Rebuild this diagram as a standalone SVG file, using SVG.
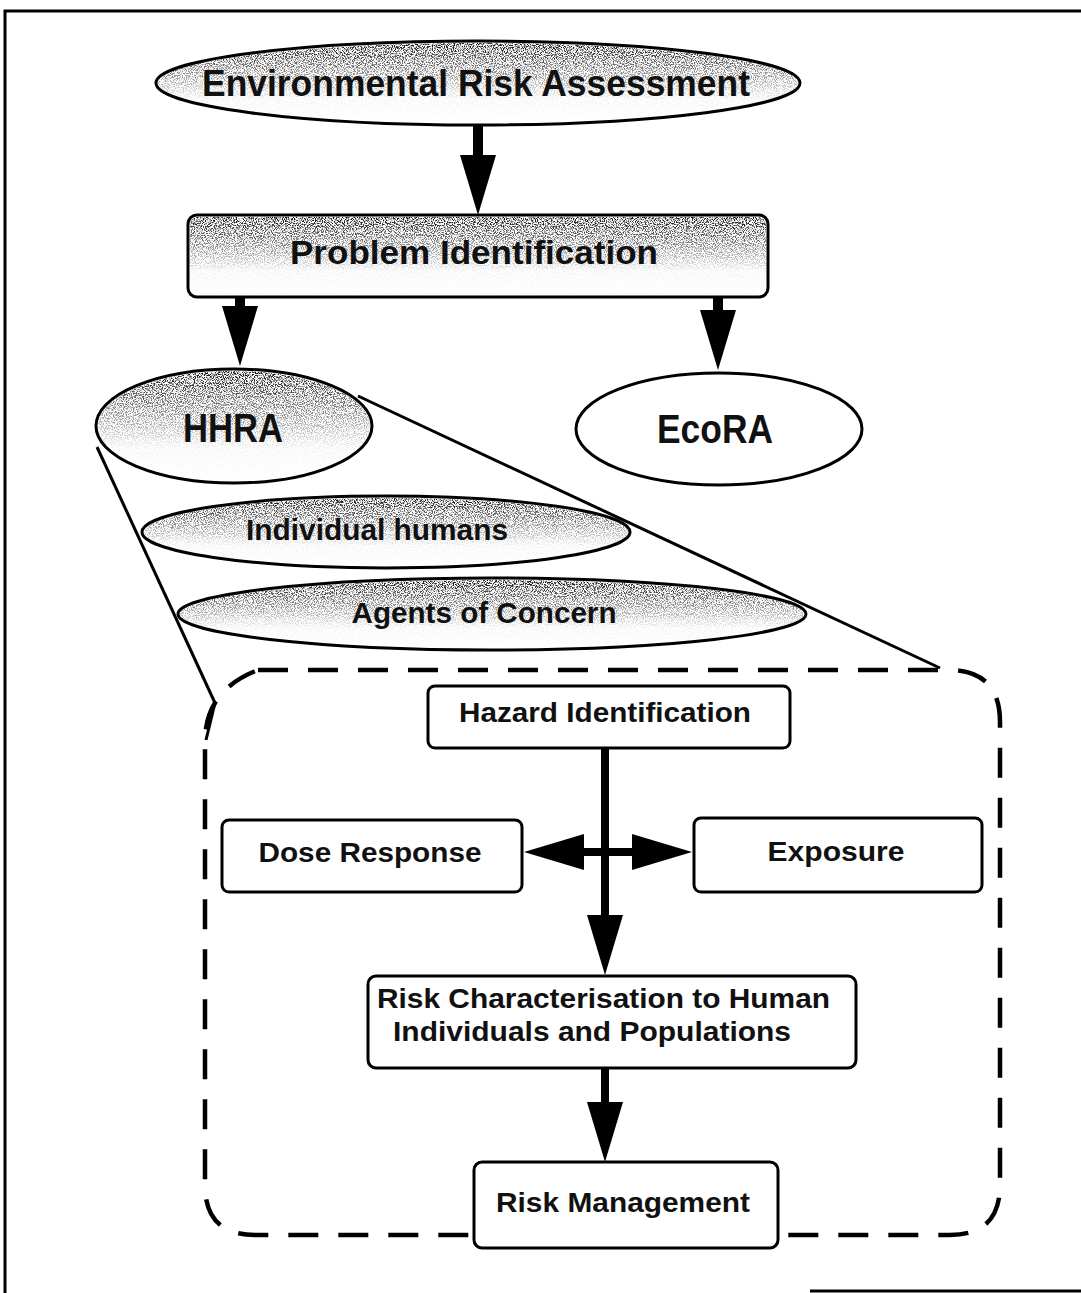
<svg xmlns="http://www.w3.org/2000/svg" width="1081" height="1293" viewBox="0 0 1081 1293">
<style>
.bg{fill:#ffffff}
.frame{fill:none;stroke:#000;stroke-width:3}
.shape{fill:#fff;stroke:#000;stroke-width:3}
.grainy{fill:url(#shade);filter:url(#grain)}
.lbl{font-family:"Liberation Sans",Arial,sans-serif;font-weight:bold;fill:#111;text-anchor:middle}
.lbl-l{font-family:"Liberation Sans",Arial,sans-serif;font-weight:bold;fill:#111}
.conn{stroke:#000;fill:none}
.cone{stroke:#000;stroke-width:3;fill:none}
.dash{stroke:#000;stroke-width:4.5;fill:none;stroke-dasharray:30 20}
</style>
<defs>
<linearGradient id="shade" x1="0" y1="0" x2="0" y2="1">
<stop offset="0" stop-color="#000" stop-opacity="0.95"/>
<stop offset="0.35" stop-color="#000" stop-opacity="0.5"/>
<stop offset="0.7" stop-color="#000" stop-opacity="0.05"/>
<stop offset="1" stop-color="#000" stop-opacity="0"/>
</linearGradient>
<filter id="grain" x="0" y="0" width="100%" height="100%">
<feTurbulence type="fractalNoise" baseFrequency="0.9" numOctaves="2" seed="7" result="n"/>
<feColorMatrix in="n" type="matrix" values="0 0 0 0 0  0 0 0 0 0  0 0 0 0 0  5 0 0 0 -2.2" result="m"/>
<feComposite in="m" in2="SourceGraphic" operator="in"/>
</filter>
<marker id="ah" markerUnits="userSpaceOnUse" markerWidth="60" markerHeight="36" viewBox="0 0 60 36" refX="0" refY="18" orient="auto-start-reverse">
<path d="M0,0 L60,18 L0,36 z" fill="#000"/>
</marker>
</defs>
<rect class="bg" x="0" y="0" width="1081" height="1293"/>
<g id="frame">
<path class="frame" d="M5,1293 V11 H1081"/>
<path class="frame" d="M810,1291 H1081"/>
</g>
<g id="connectors">
<line class="conn" stroke-width="10" x1="478" y1="125" x2="478" y2="155" marker-end="url(#ah)"/>
<line class="conn" stroke-width="10" x1="240" y1="297" x2="240" y2="306" marker-end="url(#ah)"/>
<line class="conn" stroke-width="10" x1="718" y1="297" x2="718" y2="310" marker-end="url(#ah)"/>
<line class="conn" stroke-width="8" x1="605" y1="748" x2="605" y2="915" marker-end="url(#ah)"/>
<line class="conn" stroke-width="8" x1="584" y1="852" x2="632" y2="852" marker-start="url(#ah)" marker-end="url(#ah)"/>
<line class="conn" stroke-width="8" x1="605" y1="1068" x2="605" y2="1102" marker-end="url(#ah)"/>
<line class="cone" x1="97" y1="447" x2="215" y2="703"/>
<line class="cone" x1="215" y1="703" x2="206" y2="740"/>
<line class="cone" x1="358" y1="396" x2="940" y2="668"/>
<path class="dash" d="M258,670 H948 Q1000,670 1000,722 V1185 Q1000,1235 950,1235 H255 Q205,1235 205,1185 V742 Q205,690 258,670"/>
</g>
<g id="node-era">
<ellipse class="shape" cx="478" cy="83" rx="322" ry="42"/>
<ellipse class="grainy" cx="478" cy="83" rx="320" ry="40"/>
<text class="lbl" x="476" y="96" font-size="37" textLength="548" lengthAdjust="spacingAndGlyphs">Environmental Risk Assessment</text>
</g>
<g id="node-problem">
<rect class="shape" x="188" y="215" width="580" height="82" rx="9"/>
<rect class="grainy" x="190" y="217" width="576" height="78" rx="8"/>
<text class="lbl" x="474" y="264" font-size="34" textLength="368" lengthAdjust="spacingAndGlyphs">Problem Identification</text>
</g>
<g id="node-hhra">
<ellipse class="shape" cx="234" cy="426" rx="138" ry="57"/>
<ellipse class="grainy" cx="234" cy="426" rx="136" ry="55"/>
<text class="lbl" x="233" y="442" font-size="40" textLength="100" lengthAdjust="spacingAndGlyphs">HHRA</text>
</g>
<g id="node-ecora">
<ellipse class="shape" cx="719" cy="429" rx="143" ry="56"/>
<text class="lbl" x="715" y="443" font-size="40" textLength="116" lengthAdjust="spacingAndGlyphs">EcoRA</text>
</g>
<g id="node-individual">
<ellipse class="shape" cx="386" cy="532" rx="244" ry="36"/>
<ellipse class="grainy" cx="386" cy="532" rx="242" ry="34"/>
<text class="lbl" x="377" y="540" font-size="30" textLength="262" lengthAdjust="spacingAndGlyphs">Individual humans</text>
</g>
<g id="node-agents">
<ellipse class="shape" cx="492" cy="614" rx="314" ry="36"/>
<ellipse class="grainy" cx="492" cy="614" rx="312" ry="34"/>
<text class="lbl" x="484" y="623" font-size="30" textLength="265" lengthAdjust="spacingAndGlyphs">Agents of Concern</text>
</g>
<g id="node-hazard">
<rect class="shape" x="428" y="686" width="362" height="62" rx="7"/>
<text class="lbl" x="605" y="722" font-size="28" textLength="292" lengthAdjust="spacingAndGlyphs">Hazard Identification</text>
</g>
<g id="node-dose">
<rect class="shape" x="222" y="820" width="300" height="72" rx="7"/>
<text class="lbl" x="370" y="862" font-size="28" textLength="223" lengthAdjust="spacingAndGlyphs">Dose Response</text>
</g>
<g id="node-exposure">
<rect class="shape" x="694" y="818" width="288" height="74" rx="7"/>
<text class="lbl" x="836" y="861" font-size="28" textLength="137" lengthAdjust="spacingAndGlyphs">Exposure</text>
</g>
<g id="node-riskchar">
<rect class="shape" x="368" y="976" width="488" height="92" rx="8"/>
<text class="lbl-l" x="377" y="1008" font-size="28" textLength="453" lengthAdjust="spacingAndGlyphs">Risk Characterisation to Human</text>
<text class="lbl-l" x="393" y="1041" font-size="28" textLength="398" lengthAdjust="spacingAndGlyphs">Individuals and Populations</text>
</g>
<g id="node-riskmgmt">
<rect class="shape" x="474" y="1162" width="304" height="86" rx="8"/>
<text class="lbl" x="623" y="1212" font-size="28" textLength="254" lengthAdjust="spacingAndGlyphs">Risk Management</text>
</g>
</svg>
